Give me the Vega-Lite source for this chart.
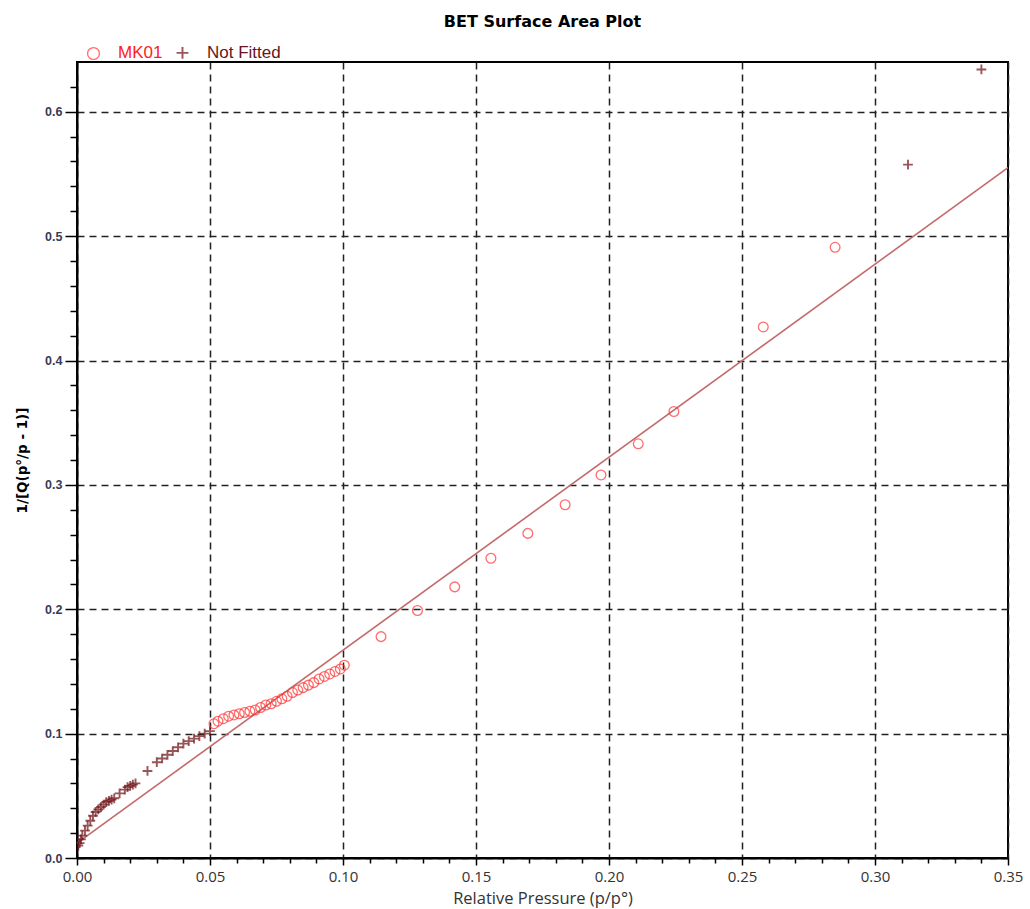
{
  "$schema": "https://vega.github.io/schema/vega-lite/v6.json",
  "width": 931,
  "height": 796,
  "autosize": {"type": "none"},
  "padding": {"left": 77, "top": 62, "right": 22, "bottom": 51},
  "background": "white",
  "title": {"text": "BET Surface Area Plot", "font": "DejaVu Sans", "fontSize": 16, "fontWeight": "bold", "color": "black", "offset": 14, "anchor": "middle", "frame": "group"},
  "config": {
    "view": {"stroke": "black", "strokeWidth": 2},
    "axis": {"domainColor": "black", "domainWidth": 2, "tickColor": "black", "tickWidth": 1.5}
  },
  "datasets": {
    "fit": [{"x": 0, "y": 0.012}, {"x": 0.35, "y": 0.555}],
    "points": [
      {"x": 0.0005, "y": 0.010, "series": "Not Fitted"},
      {"x": 0.001, "y": 0.012, "series": "Not Fitted"},
      {"x": 0.0015, "y": 0.015, "series": "Not Fitted"},
      {"x": 0.002, "y": 0.018, "series": "Not Fitted"},
      {"x": 0.003, "y": 0.022, "series": "Not Fitted"},
      {"x": 0.004, "y": 0.026, "series": "Not Fitted"},
      {"x": 0.005, "y": 0.030, "series": "Not Fitted"},
      {"x": 0.006, "y": 0.034, "series": "Not Fitted"},
      {"x": 0.007, "y": 0.037, "series": "Not Fitted"},
      {"x": 0.008, "y": 0.039, "series": "Not Fitted"},
      {"x": 0.009, "y": 0.041, "series": "Not Fitted"},
      {"x": 0.010, "y": 0.043, "series": "Not Fitted"},
      {"x": 0.011, "y": 0.045, "series": "Not Fitted"},
      {"x": 0.012, "y": 0.046, "series": "Not Fitted"},
      {"x": 0.013, "y": 0.047, "series": "Not Fitted"},
      {"x": 0.014, "y": 0.048, "series": "Not Fitted"},
      {"x": 0.016, "y": 0.052, "series": "Not Fitted"},
      {"x": 0.018, "y": 0.055, "series": "Not Fitted"},
      {"x": 0.019, "y": 0.057, "series": "Not Fitted"},
      {"x": 0.020, "y": 0.058, "series": "Not Fitted"},
      {"x": 0.021, "y": 0.059, "series": "Not Fitted"},
      {"x": 0.022, "y": 0.060, "series": "Not Fitted"},
      {"x": 0.0265, "y": 0.070, "series": "Not Fitted"},
      {"x": 0.030, "y": 0.077, "series": "Not Fitted"},
      {"x": 0.032, "y": 0.080, "series": "Not Fitted"},
      {"x": 0.034, "y": 0.083, "series": "Not Fitted"},
      {"x": 0.036, "y": 0.086, "series": "Not Fitted"},
      {"x": 0.038, "y": 0.089, "series": "Not Fitted"},
      {"x": 0.040, "y": 0.092, "series": "Not Fitted"},
      {"x": 0.042, "y": 0.094, "series": "Not Fitted"},
      {"x": 0.044, "y": 0.096, "series": "Not Fitted"},
      {"x": 0.046, "y": 0.098, "series": "Not Fitted"},
      {"x": 0.048, "y": 0.100, "series": "Not Fitted"},
      {"x": 0.050, "y": 0.102, "series": "Not Fitted"},
      {"x": 0.3124, "y": 0.5575, "series": "Not Fitted"},
      {"x": 0.340, "y": 0.634, "series": "Not Fitted"},
      {"x": 0.0515, "y": 0.108, "series": "MK01"},
      {"x": 0.053, "y": 0.110, "series": "MK01"},
      {"x": 0.055, "y": 0.112, "series": "MK01"},
      {"x": 0.057, "y": 0.114, "series": "MK01"},
      {"x": 0.059, "y": 0.115, "series": "MK01"},
      {"x": 0.061, "y": 0.116, "series": "MK01"},
      {"x": 0.063, "y": 0.117, "series": "MK01"},
      {"x": 0.065, "y": 0.118, "series": "MK01"},
      {"x": 0.067, "y": 0.119, "series": "MK01"},
      {"x": 0.069, "y": 0.121, "series": "MK01"},
      {"x": 0.071, "y": 0.123, "series": "MK01"},
      {"x": 0.073, "y": 0.124, "series": "MK01"},
      {"x": 0.075, "y": 0.126, "series": "MK01"},
      {"x": 0.077, "y": 0.128, "series": "MK01"},
      {"x": 0.079, "y": 0.130, "series": "MK01"},
      {"x": 0.081, "y": 0.133, "series": "MK01"},
      {"x": 0.083, "y": 0.135, "series": "MK01"},
      {"x": 0.085, "y": 0.137, "series": "MK01"},
      {"x": 0.087, "y": 0.139, "series": "MK01"},
      {"x": 0.089, "y": 0.141, "series": "MK01"},
      {"x": 0.091, "y": 0.144, "series": "MK01"},
      {"x": 0.093, "y": 0.146, "series": "MK01"},
      {"x": 0.095, "y": 0.148, "series": "MK01"},
      {"x": 0.097, "y": 0.150, "series": "MK01"},
      {"x": 0.099, "y": 0.152, "series": "MK01"},
      {"x": 0.1005, "y": 0.155, "series": "MK01"},
      {"x": 0.1143, "y": 0.178, "series": "MK01"},
      {"x": 0.128, "y": 0.199, "series": "MK01"},
      {"x": 0.142, "y": 0.218, "series": "MK01"},
      {"x": 0.1556, "y": 0.241, "series": "MK01"},
      {"x": 0.1695, "y": 0.261, "series": "MK01"},
      {"x": 0.1835, "y": 0.284, "series": "MK01"},
      {"x": 0.197, "y": 0.308, "series": "MK01"},
      {"x": 0.211, "y": 0.333, "series": "MK01"},
      {"x": 0.2244, "y": 0.359, "series": "MK01"},
      {"x": 0.258, "y": 0.427, "series": "MK01"},
      {"x": 0.285, "y": 0.491, "series": "MK01"}
    ]
  },
  "layer": [
    {
      "data": {"name": "fit"},
      "mark": {"type": "line", "color": "#c46a6a", "strokeWidth": 1.6},
      "encoding": {
        "x": {"field": "x", "type": "quantitative", "scale": {"domain": [0, 0.35], "nice": false, "zero": false},
          "axis": {"orient": "bottom", "title": null, "labels": false, "grid": false, "domain": false, "tickSize": 5,
            "values": [0.01, 0.02, 0.03, 0.04, 0.06, 0.07, 0.08, 0.09, 0.11, 0.12, 0.13, 0.14, 0.16, 0.17, 0.18, 0.19, 0.21, 0.22, 0.23, 0.24, 0.26, 0.27, 0.28, 0.29, 0.31, 0.32, 0.33, 0.34]}},
        "y": {"field": "y", "type": "quantitative", "scale": {"domain": [0, 0.64], "nice": false, "zero": false},
          "axis": {"orient": "left", "title": null, "labels": false, "grid": false, "domain": false, "tickSize": 7,
            "values": [0.02, 0.04, 0.06, 0.08, 0.12, 0.14, 0.16, 0.18, 0.22, 0.24, 0.26, 0.28, 0.32, 0.34, 0.36, 0.38, 0.42, 0.44, 0.46, 0.48, 0.52, 0.54, 0.56, 0.58, 0.62]}}
      }
    },
    {
      "data": {"name": "points"},
      "mark": {"type": "point", "filled": false, "size": 95, "clip": true},
      "encoding": {
        "x": {"field": "x", "type": "quantitative", "scale": {"domain": [0, 0.35], "nice": false, "zero": false},
          "axis": {"orient": "bottom", "title": "Relative Pressure (p/p°)", "values": [0, 0.05, 0.1, 0.15, 0.2, 0.25, 0.3, 0.35], "format": ".2f",
            "grid": true, "gridDash": [7, 5], "gridColor": "#222222", "gridWidth": 1.5, "tickSize": 7,
            "labelFont": "Open Sans", "labelFontSize": 15, "labelColor": "#333333", "labelPadding": 4, "labelFlush": false,
            "titleFont": "Open Sans", "titleFontSize": 16.5, "titleFontWeight": "normal", "titleColor": "#333333", "titlePadding": 6}},
        "y": {"field": "y", "type": "quantitative", "scale": {"domain": [0, 0.64], "nice": false, "zero": false},
          "axis": {"orient": "left", "title": "1/[Q(p°/p - 1)]", "values": [0, 0.1, 0.2, 0.3, 0.4, 0.5, 0.6], "format": ".1f",
            "grid": true, "gridDash": [7, 5], "gridColor": "#222222", "gridWidth": 1.5, "tickSize": 12,
            "labelFont": "Liberation Sans", "labelFontSize": 12.5, "labelFontWeight": "bold", "labelColor": "#3a3a55", "labelPadding": 3,
            "titleFont": "DejaVu Sans", "titleFontSize": 13.5, "titleFontWeight": "bold", "titleColor": "black", "titlePadding": 15}},
        "color": {"field": "series", "type": "nominal",
          "scale": {"domain": ["MK01", "Not Fitted"], "range": ["#ff3030", "#6e0f14"]},
          "legend": {"orient": "none", "legendX": 8, "legendY": -18, "direction": "horizontal", "title": null,
            "labelFont": "Liberation Sans", "labelFontSize": 17, "labelColor": {"expr": "datum.label == 'MK01' ? '#ff2020' : '#6a1420'"},
            "symbolSize": 140, "symbolStrokeWidth": 1.4, "columnPadding": 9, "labelOffset": 16}},
        "shape": {"field": "series", "type": "nominal",
          "scale": {"domain": ["MK01", "Not Fitted"], "range": ["circle", "M-1,0H1M0,-1V1"]}},
        "strokeWidth": {"field": "series", "type": "nominal",
          "scale": {"domain": ["MK01", "Not Fitted"], "range": [1.3, 1.9]}, "legend": null}
      }
    }
  ],
  "resolve": {"axis": {"x": "independent", "y": "independent"}}
}
